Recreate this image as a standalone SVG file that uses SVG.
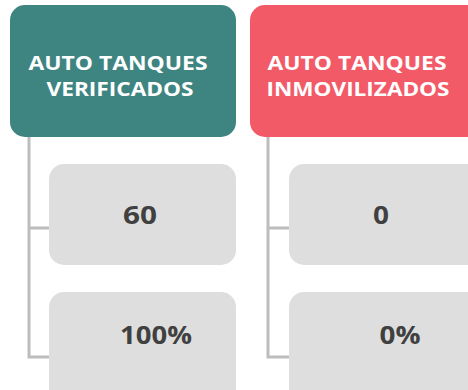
<svg xmlns="http://www.w3.org/2000/svg" width="468" height="390" viewBox="0 0 468 390">
<style>
.hdr{font-family:"Open Sans","Liberation Sans",sans-serif;font-weight:700;font-size:20px;fill:#ffffff;text-anchor:middle}
.val{font-family:"Open Sans","Liberation Sans",sans-serif;font-weight:700;font-size:25px;fill:#404040;text-anchor:middle}
.card{fill:#dedede}
.conn{fill:none;stroke:#bdbdbd;stroke-width:3}
</style>
<rect width="468" height="390" fill="#ffffff"/>
<g id="connectors">
<path class="conn" d="M29,137 V357 H49 M29,228 H49"/>
<path class="conn" d="M268,137 V357 H289 M268,228 H289"/>
</g>
<g id="verificados">
<rect x="10" y="5" width="226" height="132" rx="15" fill="#3e8581"/>
<text class="hdr" x="118" y="70" textLength="179" lengthAdjust="spacingAndGlyphs">AUTO TANQUES</text>
<text class="hdr" x="120" y="96" textLength="147" lengthAdjust="spacingAndGlyphs">VERIFICADOS</text>
</g>
<g id="inmovilizados">
<rect x="250" y="5" width="240" height="132" rx="15" fill="#f25a68"/>
<text class="hdr" x="357" y="70" textLength="179" lengthAdjust="spacingAndGlyphs">AUTO TANQUES</text>
<text class="hdr" x="358" y="96" textLength="183" lengthAdjust="spacingAndGlyphs">INMOVILIZADOS</text>
</g>
<g id="v60">
<rect class="card" x="49" y="164" width="187" height="101" rx="15"/>
<text class="val" x="140" y="224" textLength="34" lengthAdjust="spacingAndGlyphs">60</text>
</g>
<g id="v100">
<rect class="card" x="49" y="292" width="187" height="120" rx="15"/>
<text class="val" x="156" y="344" textLength="72" lengthAdjust="spacingAndGlyphs">100%</text>
</g>
<g id="v0">
<rect class="card" x="289" y="164" width="200" height="101" rx="15"/>
<text class="val" x="381" y="224" textLength="16" lengthAdjust="spacingAndGlyphs">0</text>
</g>
<g id="v0pct">
<rect class="card" x="289" y="292" width="200" height="120" rx="15"/>
<text class="val" x="400" y="344" textLength="41" lengthAdjust="spacingAndGlyphs">0%</text>
</g>
</svg>
